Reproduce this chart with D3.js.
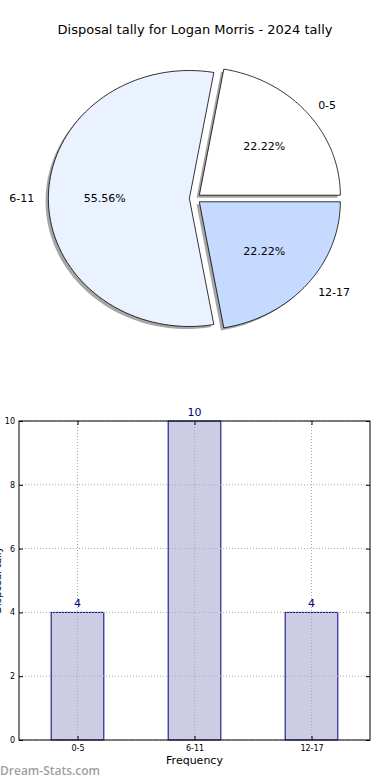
<!DOCTYPE html>
<html>
<head>
<meta charset="utf-8">
<script src="https://cdn.jsdelivr.net/npm/d3@7"></script>
<style>
  body { margin: 0; background: #fff; }
  svg { display: block; font-family: "DejaVu Sans", sans-serif; }
</style>
</head>
<body>
<svg id="chart" width="390" height="780"></svg>
<script>
// data
var categories = ["0-5", "6-11", "12-17"];
var counts = [4, 10, 4];
var sliceColors = ["#ffffff", "#ebf2ff", "#c6d9ff"];
var yTicks = [0, 2, 4, 6, 8, 10];
var titleText = "Disposal tally for Logan Morris - 2024 tally";

var svg = d3.select("svg#chart");

svg.append("text")
  .attr("x", 195).attr("y", 34)
  .attr("text-anchor", "middle")
  .style("font-size", "13px")
  .text(titleText);

// ---- pie (elliptical, like matplotlib without equal aspect) ----
var cx = 195, cy = 198.5, rx = 141, ry = 128;
var explode = 0.04, shadowOff = 0.02;
var total = d3.sum(counts);

// start at east, go counter-clockwise
var angles = [];
var acc = 0;
counts.forEach(function(c, i) {
  var a0 = acc / total * 2 * Math.PI;
  acc += c;
  var a1 = acc / total * 2 * Math.PI;
  angles.push({i: i, a0: a0, a1: a1, am: (a0 + a1) / 2});
});

function wedgePath(d, ox, oy) {
  var p = d3.path();
  var x0 = cx + ox, y0 = cy + oy;
  p.moveTo(x0, y0);
  var n = 80;
  for (var k = 0; k <= n; k++) {
    var a = d.a0 + (d.a1 - d.a0) * k / n;
    p.lineTo(x0 + rx * Math.cos(a), y0 - ry * Math.sin(a));
  }
  p.closePath();
  return p.toString();
}

var pieG = svg.append("g");
// shadows first
pieG.selectAll("path.shadow")
  .data(angles).enter().append("path")
  .attr("class", "shadow")
  .attr("d", function(d) {
    var ox = explode * rx * Math.cos(d.am), oy = -explode * ry * Math.sin(d.am);
    return wedgePath(d, ox - shadowOff * rx, oy + shadowOff * ry);
  })
  .style("fill", "#000").style("fill-opacity", 0.35);

pieG.selectAll("path.wedge")
  .data(angles).enter().append("path")
  .attr("class", "wedge")
  .attr("d", function(d) {
    var ox = explode * rx * Math.cos(d.am), oy = -explode * ry * Math.sin(d.am);
    return wedgePath(d, ox, oy);
  })
  .style("fill", function(d) { return sliceColors[d.i]; })
  .style("stroke", "#000").style("stroke-width", 0.8);

// category labels
pieG.selectAll("text.lbl")
  .data(angles).enter().append("text")
  .attr("class", "lbl")
  .attr("x", function(d) { return cx + explode * rx * Math.cos(d.am) + 1.1 * rx * Math.cos(d.am); })
  .attr("y", function(d) { return cy - explode * ry * Math.sin(d.am) - 1.1 * ry * Math.sin(d.am); })
  .attr("dy", "0.35em")
  .attr("text-anchor", function(d) { return Math.cos(d.am) > 0 ? "start" : "end"; })
  .style("font-size", "11px")
  .text(function(d) { return categories[d.i]; });

// percentages
pieG.selectAll("text.pct")
  .data(angles).enter().append("text")
  .attr("class", "pct")
  .attr("x", function(d) { return cx + explode * rx * Math.cos(d.am) + 0.6 * rx * Math.cos(d.am); })
  .attr("y", function(d) { return cy - explode * ry * Math.sin(d.am) - 0.6 * ry * Math.sin(d.am); })
  .attr("dy", "0.35em")
  .attr("text-anchor", "middle")
  .style("font-size", "11px")
  .text(function(d) { return (counts[d.i] / total * 100).toFixed(2) + "%"; });

// ---- bar chart ----
var pLeft = 19, pRight = 370, pTop = 421, pBottom = 740;
var x = d3.scaleLinear().domain([-0.5, categories.length - 0.5]).range([pLeft, pRight]);
var y = d3.scaleLinear().domain([0, 10]).range([pBottom, pTop]);
var barW = (x(1) - x(0)) * 0.45;

var barG = svg.append("g");

function drawGrid(cls) {
  barG.selectAll("line.h" + cls)
    .data(yTicks).enter().append("line")
    .attr("class", "h" + cls)
    .attr("x1", pLeft).attr("x2", pRight)
    .attr("y1", function(d) { return y(d); }).attr("y2", function(d) { return y(d); })
    .style("stroke", "#aaa").style("stroke-dasharray", "1,2").style("stroke-width", 1);
  barG.selectAll("line.v" + cls)
    .data(categories).enter().append("line")
    .attr("class", "v" + cls)
    .attr("x1", function(d, i) { return x(i); }).attr("x2", function(d, i) { return x(i); })
    .attr("y1", pTop).attr("y2", pBottom)
    .style("stroke", "#aaa").style("stroke-dasharray", "1,2").style("stroke-width", 1);
}

// bars
barG.selectAll("rect.bar")
  .data(counts).enter().append("rect")
  .attr("class", "bar")
  .attr("x", function(d, i) { return x(i) - barW / 2; })
  .attr("y", function(d) { return y(d); })
  .attr("width", barW)
  .attr("height", function(d) { return pBottom - y(d); })
  .style("fill", "#ccccE5")
  .style("stroke", "#000080").style("stroke-width", 1);

// dotted grid shows across the bars too
drawGrid("grid");

// value labels
barG.selectAll("text.val")
  .data(counts).enter().append("text")
  .attr("x", function(d, i) { return x(i); })
  .attr("y", function(d) { return y(d) - 5; })
  .attr("text-anchor", "middle")
  .style("font-size", "11px")
  .style("fill", "#000080")
  .text(function(d) { return d; });

// frame
barG.append("rect")
  .attr("x", pLeft).attr("y", pTop)
  .attr("width", pRight - pLeft).attr("height", pBottom - pTop)
  .style("fill", "none").style("stroke", "#000").style("stroke-width", 1);

// axes (ticks inward, matplotlib classic)
var yAxis = d3.axisLeft(y).tickValues(yTicks).tickSizeInner(-4).tickSizeOuter(0).tickPadding(4);
var yAxisG = barG.append("g").attr("transform", "translate(" + pLeft + ",0)").call(yAxis);
yAxisG.select(".domain").remove();
yAxisG.selectAll("text").style("font-size", "8px").style("font-family", "DejaVu Sans, sans-serif");

var yAxisR = d3.axisRight(y).tickValues(yTicks).tickSizeInner(-4).tickSizeOuter(0).tickFormat("");
var yAxisRG = barG.append("g").attr("transform", "translate(" + pRight + ",0)").call(yAxisR);
yAxisRG.select(".domain").remove();

var xAxis = d3.axisBottom(x).tickValues([0, 1, 2])
  .tickFormat(function(d) { return categories[d]; })
  .tickSizeInner(-4).tickSizeOuter(0).tickPadding(5);
var xAxisG = barG.append("g").attr("transform", "translate(0," + pBottom + ")").call(xAxis);
xAxisG.select(".domain").remove();
xAxisG.selectAll("text").style("font-size", "8px").style("font-family", "DejaVu Sans, sans-serif");

var xAxisT = d3.axisTop(x).tickValues([0, 1, 2]).tickSizeInner(-4).tickSizeOuter(0).tickFormat("");
var xAxisTG = barG.append("g").attr("transform", "translate(0," + pTop + ")").call(xAxisT);
xAxisTG.select(".domain").remove();

svg.append("text")
  .attr("x", x(1)).attr("y", 764)
  .attr("text-anchor", "middle")
  .style("font-size", "11px")
  .text("Frequency");

// y label, clipped at the left edge like the original
svg.append("text")
  .attr("transform", "translate(1,580) rotate(-90)")
  .attr("text-anchor", "middle")
  .style("font-size", "10px")
  .text("Disposal tally");

// watermark
svg.append("text")
  .attr("x", 0).attr("y", 775)
  .style("font-family", "'Open Sans', sans-serif")
  .style("font-size", "12px")
  .style("font-weight", "600")
  .style("fill", "#a0a0a0")
  .text("Dream-Stats.com");
</script>
</body>
</html>
